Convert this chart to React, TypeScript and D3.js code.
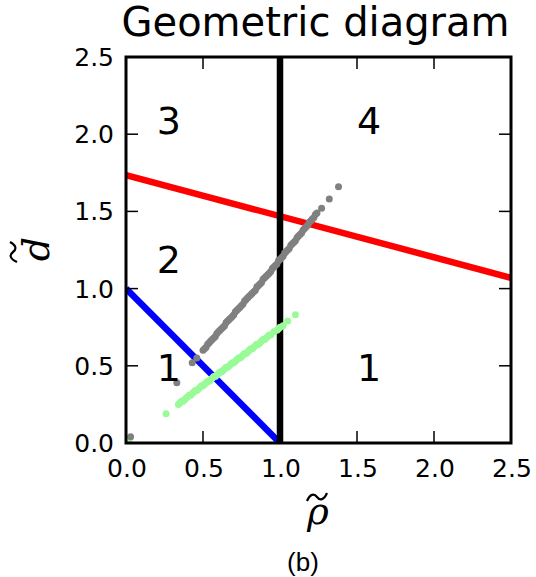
import React from "react";
import * as d3 from "d3";

const W = 536;
const H = 577;

const xTicks = [0.0, 0.5, 1.0, 1.5, 2.0, 2.5];
const yTicks = [0.0, 0.5, 1.0, 1.5, 2.0, 2.5];

const redLine: [number, number][] = [[0, 1.735], [2.5, 1.07]];
const blueLine: [number, number][] = [[0, 1.0], [1.0, 0.0]];
const blackLine: [number, number][] = [[1.0, 0.0], [1.0, 2.5]];

const grayPoints: [number, number][] = [
  [0.03, 0.04], [0.33, 0.39], [0.43, 0.52], [0.46, 0.55], [0.50, 0.60], [0.51, 0.61], [0.52, 0.62],
  [0.53, 0.64], [0.54, 0.65], [0.55, 0.66], [0.56, 0.67], [0.57, 0.68], [0.58, 0.69], [0.59, 0.71],
  [0.60, 0.72], [0.61, 0.73], [0.62, 0.74], [0.63, 0.75], [0.64, 0.76], [0.65, 0.78],
  [0.66, 0.79], [0.67, 0.80], [0.68, 0.81], [0.69, 0.82], [0.70, 0.83], [0.71, 0.85], [0.72, 0.86],
  [0.73, 0.87], [0.74, 0.88], [0.75, 0.89], [0.76, 0.90], [0.77, 0.92],
  [0.78, 0.93], [0.79, 0.94], [0.80, 0.95], [0.81, 0.96], [0.82, 0.97], [0.83, 0.98], [0.84, 0.99],
  [0.85, 1.01], [0.86, 1.02], [0.87, 1.03], [0.88, 1.04], [0.89, 1.06],
  [0.90, 1.07], [0.91, 1.08], [0.92, 1.09], [0.93, 1.10], [0.94, 1.11], [0.95, 1.13], [0.96, 1.14],
  [0.97, 1.15], [0.98, 1.16], [0.99, 1.18], [1.00, 1.19], [1.01, 1.20],
  [1.02, 1.21], [1.03, 1.23], [1.04, 1.24], [1.05, 1.25], [1.06, 1.26], [1.07, 1.28], [1.08, 1.29],
  [1.09, 1.30], [1.10, 1.31], [1.11, 1.33], [1.12, 1.34], [1.13, 1.35],
  [1.14, 1.36], [1.15, 1.38], [1.16, 1.39], [1.17, 1.40], [1.18, 1.41], [1.19, 1.43], [1.20, 1.44],
  [1.21, 1.45], [1.22, 1.46], [1.23, 1.48], [1.24, 1.49],
  [1.27, 1.52], [1.32, 1.58], [1.38, 1.66],
];

const greenPoints: [number, number][] = [
  [0.02, 0.02], [0.26, 0.19], [0.34, 0.25], [0.35, 0.26], [0.36, 0.27], [0.37, 0.27], [0.38, 0.28],
  [0.39, 0.29], [0.40, 0.30], [0.41, 0.31], [0.42, 0.31], [0.43, 0.32], [0.44, 0.33], [0.45, 0.34],
  [0.46, 0.34], [0.47, 0.35], [0.48, 0.36], [0.49, 0.37], [0.50, 0.37], [0.51, 0.38], [0.52, 0.39],
  [0.53, 0.40], [0.54, 0.40], [0.55, 0.41], [0.56, 0.42], [0.57, 0.43], [0.58, 0.43], [0.59, 0.44],
  [0.60, 0.45], [0.61, 0.46], [0.62, 0.46], [0.63, 0.47], [0.64, 0.48], [0.65, 0.49],
  [0.66, 0.49], [0.67, 0.50], [0.68, 0.51], [0.69, 0.52], [0.70, 0.52], [0.71, 0.53], [0.72, 0.54],
  [0.73, 0.55], [0.74, 0.55], [0.75, 0.56], [0.76, 0.57], [0.77, 0.58],
  [0.78, 0.58], [0.79, 0.59], [0.80, 0.60], [0.81, 0.61], [0.82, 0.61], [0.83, 0.62], [0.84, 0.63],
  [0.85, 0.64], [0.86, 0.64], [0.87, 0.65], [0.88, 0.66], [0.89, 0.67],
  [0.90, 0.67], [0.91, 0.68], [0.92, 0.69], [0.93, 0.70], [0.94, 0.70], [0.96, 0.72], [0.98, 0.73],
  [0.99, 0.74], [1.00, 0.75], [1.02, 0.76], [1.05, 0.79], [1.10, 0.83],
];

const regionLabels: { text: string; x: number; y: number }[] = [
  { text: "3", x: 0.2, y: 2.0 },
  { text: "4", x: 1.5, y: 2.0 },
  { text: "2", x: 0.2, y: 1.1 },
  { text: "1", x: 0.2, y: 0.4 },
  { text: "1", x: 1.5, y: 0.4 },
];

const title = "Geometric diagram";
const caption = "(b)";

export default function App() {
  const left = 126, right = 511, top = 57, bottom = 443;
  const x = d3.scaleLinear().domain([0, 2.5]).range([left, right]);
  const y = d3.scaleLinear().domain([0, 2.5]).range([bottom, top]);
  const line = d3.line<[number, number]>().x(d => x(d[0])).y(d => y(d[1]));
  const font = "'DejaVu Sans', sans-serif";
  const tickLen = 12;

  return (
    <svg width={W} height={H} style={{ position: "absolute", left: 0, top: 0, background: "#fff" }}>
      <rect x={0} y={0} width={W} height={H} fill="#fff" />
      <text x={(left + right) / 2 - 3} y={36} textAnchor="middle" fontFamily={font} fontSize={40} fill="#000">
        {title}
      </text>
      <defs>
        <clipPath id="plotclip">
          <rect x={left} y={top} width={right - left} height={bottom - top} />
        </clipPath>
      </defs>
      <g clipPath="url(#plotclip)">
        <path d={line(redLine) || ""} stroke="#ff0000" strokeWidth={6.5} fill="none" />
        <path d={line(blueLine) || ""} stroke="#0000ff" strokeWidth={6.5} fill="none" />
        <path d={line(blackLine) || ""} stroke="#000000" strokeWidth={6.5} fill="none" />
        {greenPoints.map((p, i) => (
          <circle key={"g" + i} cx={x(p[0])} cy={y(p[1])} r={3.5} fill="#98fb98" />
        ))}
        {grayPoints.map((p, i) => (
          <circle key={"k" + i} cx={x(p[0])} cy={y(p[1])} r={3.5} fill="#808080" />
        ))}
      </g>
      {regionLabels.map((l, i) => (
        <text key={"r" + i} x={x(l.x)} y={y(l.y)} fontFamily={font} fontSize={38} fill="#000">
          {l.text}
        </text>
      ))}
      {xTicks.map((t, i) => (
        <g key={"xt" + i}>
          <line x1={x(t)} x2={x(t)} y1={bottom} y2={bottom - tickLen} stroke="#000" strokeWidth={1.5} />
          <line x1={x(t)} x2={x(t)} y1={top} y2={top + tickLen} stroke="#000" strokeWidth={1.5} />
          <text x={x(t) + 1} y={477} textAnchor="middle" fontFamily={font} fontSize={25} fill="#000">
            {t.toFixed(1)}
          </text>
        </g>
      ))}
      {yTicks.map((t, i) => (
        <g key={"yt" + i}>
          <line x1={left} x2={left + tickLen} y1={y(t)} y2={y(t)} stroke="#000" strokeWidth={1.5} />
          <line x1={right} x2={right - tickLen} y1={y(t)} y2={y(t)} stroke="#000" strokeWidth={1.5} />
          <text x={114} y={y(t) + 9} textAnchor="end" fontFamily={font} fontSize={25} fill="#000">
            {t.toFixed(1)}
          </text>
        </g>
      ))}
      <rect x={left} y={top} width={right - left} height={bottom - top} fill="none" stroke="#000" strokeWidth={3} />
      <text x={318} y={524} textAnchor="middle" fontFamily="'DejaVu Serif', serif" fontStyle="italic" fontSize={37} fill="#000">
        ρ
      </text>
      <path d="M307,501 C310,494 314,493 317,497 C320,501 324,500 327,493" stroke="#000" strokeWidth={2.2} fill="none" />
      <g transform="translate(49,249) rotate(-90)">
        <text x={0} y={0} textAnchor="middle" fontFamily="'DejaVu Serif', serif" fontStyle="italic" fontSize={38} fill="#000">
          d
        </text>
      </g>
      <path d="M17,262 C10,259 9,255 13,252 C17,249 16,245 10,242" stroke="#000" strokeWidth={2.2} fill="none" />
      <text x={303} y={571} textAnchor="middle" fontFamily="'Liberation Sans', Arial, sans-serif" fontSize={26} fill="#000">
        {caption}
      </text>
    </svg>
  );
}
